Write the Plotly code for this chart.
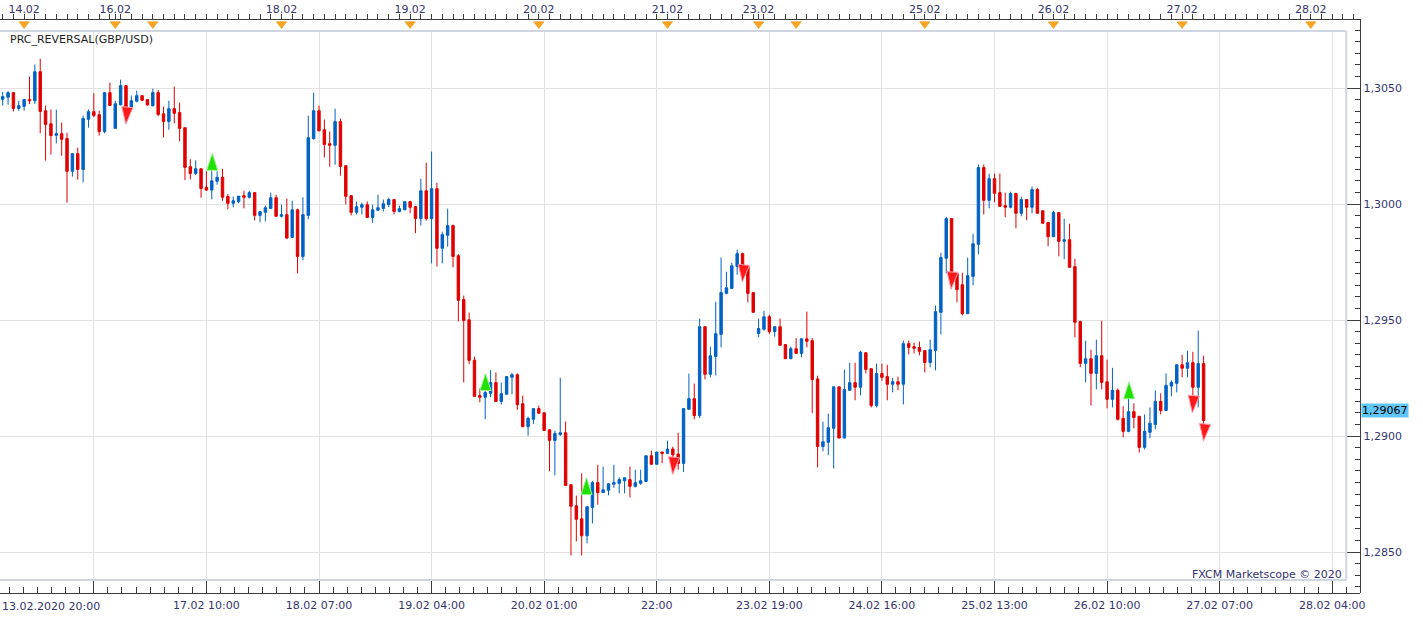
import plotly.graph_objects as go

# ---------------- data (hourly GBP/USD bars, weekend hours skipped) ----------------
# bar 0 = 13.02.2020 20:00
opens = [1.30451, 1.30460, 1.30480, 1.30412, 1.30421, 1.30450, 1.30445, 1.30570, 1.30402, 1.30346,
         1.30296, 1.30303, 1.30282, 1.30141, 1.30217, 1.30149, 1.30365, 1.30398, 1.30385, 1.30312,
         1.30480, 1.30326, 1.30428, 1.30510, 1.30417, 1.30443, 1.30467, 1.30450, 1.30424, 1.30480,
         1.30389, 1.30356, 1.30411, 1.30394, 1.30329, 1.30161, 1.30132, 1.30152, 1.30072, 1.30060,
         1.30098, 1.30115, 1.30032, 1.30003, 1.30011, 1.30036, 1.30029, 1.30049, 1.29951, 1.29964,
         1.29981, 1.30027, 1.29947, 1.29954, 1.29856, 1.29975, 1.29774, 1.29951, 1.30282, 1.30402,
         1.30320, 1.30260, 1.30253, 1.30355, 1.30165, 1.30036, 1.29964, 1.29986, 1.29997, 1.29942,
         1.29973, 1.29981, 1.29998, 1.30019, 1.29968, 1.29975, 1.30010, 1.29989, 1.29937, 1.30057,
         1.29937, 1.30066, 1.29809, 1.29865, 1.29907, 1.29777, 1.29588, 1.29501, 1.29327, 1.29174,
         1.29167, 1.29184, 1.29230, 1.29149, 1.29180, 1.29253, 1.29264, 1.29139, 1.29040, 1.29072,
         1.29118, 1.29100, 1.29027, 1.28981, 1.29007, 1.29014, 1.28790, 1.28699, 1.28643, 1.28570,
         1.28692, 1.28799, 1.28756, 1.28766, 1.28792, 1.28796, 1.28807, 1.28812, 1.28783, 1.28796,
         1.28804, 1.28915, 1.28878, 1.28931, 1.28925, 1.28944, 1.28922, 1.28882, 1.29115, 1.29161,
         1.29088, 1.29471, 1.29266, 1.29343, 1.29438, 1.29615, 1.29636, 1.29731, 1.29786, 1.29730,
         1.29618, 1.29442, 1.29460, 1.29514, 1.29450, 1.29471, 1.29394, 1.29333, 1.29376, 1.29356,
         1.29419, 1.29411, 1.29246, 1.28955, 1.28973, 1.29033, 1.29212, 1.28991, 1.29197, 1.29230,
         1.29210, 1.29359, 1.29290, 1.29131, 1.29269, 1.29256, 1.29223, 1.29234, 1.29223, 1.29398,
         1.29385, 1.29381, 1.29368, 1.29317, 1.29369, 1.29533, 1.29766, 1.29937, 1.29700, 1.29652,
         1.29527, 1.29688, 1.29826, 1.30157, 1.30016, 1.30109, 1.30049, 1.29993, 1.29986, 1.30045,
         1.29960, 1.30019, 1.29986, 1.30062, 1.29971, 1.29920, 1.29859, 1.29963, 1.29839, 1.29846,
         1.29730, 1.29493, 1.29313, 1.29333, 1.29270, 1.29346, 1.29234, 1.29158, 1.29197, 1.29076,
         1.29020, 1.29105, 1.29085, 1.28951, 1.29016, 1.29050, 1.29149, 1.29110, 1.29215, 1.29227,
         1.29307, 1.29292, 1.29316, 1.29210, 1.29312]
highs = [1.30483, 1.30486, 1.30480, 1.30445, 1.30450, 1.30549, 1.30601, 1.30626, 1.30424, 1.30407,
         1.30407, 1.30351, 1.30307, 1.30217, 1.30243, 1.30381, 1.30407, 1.30477, 1.30402, 1.30480,
         1.30523, 1.30445, 1.30536, 1.30510, 1.30467, 1.30489, 1.30467, 1.30450, 1.30497, 1.30491,
         1.30420, 1.30445, 1.30506, 1.30437, 1.30329, 1.30193, 1.30188, 1.30152, 1.30141, 1.30144,
         1.30141, 1.30152, 1.30043, 1.30032, 1.30034, 1.30057, 1.30057, 1.30049, 1.29967, 1.29993,
         1.30049, 1.30040, 1.29997, 1.30023, 1.30014, 1.29980, 1.30029, 1.30381, 1.30480, 1.30424,
         1.30364, 1.30312, 1.30411, 1.30368, 1.30165, 1.30036, 1.30010, 1.30006, 1.30011, 1.29997,
         1.30040, 1.30019, 1.30027, 1.30019, 1.29993, 1.30010, 1.30014, 1.29989, 1.30109, 1.30178,
         1.30226, 1.30092, 1.29881, 1.29980, 1.29911, 1.29784, 1.29605, 1.29532, 1.29342, 1.29205,
         1.29195, 1.29284, 1.29274, 1.29230, 1.29256, 1.29271, 1.29270, 1.29174, 1.29083, 1.29118,
         1.29131, 1.29100, 1.29027, 1.29023, 1.29251, 1.29062, 1.28790, 1.28743, 1.28839, 1.28695,
         1.28807, 1.28876, 1.28868, 1.28794, 1.28876, 1.28822, 1.28820, 1.28868, 1.28855, 1.28855,
         1.28915, 1.28937, 1.28931, 1.28931, 1.28980, 1.28954, 1.29014, 1.29118, 1.29269, 1.29226,
         1.29506, 1.29471, 1.29385, 1.29579, 1.29769, 1.29708, 1.29747, 1.29803, 1.29790, 1.29738,
         1.29618, 1.29506, 1.29540, 1.29523, 1.29471, 1.29506, 1.29394, 1.29385, 1.29422, 1.29419,
         1.29536, 1.29422, 1.29260, 1.29062, 1.29096, 1.29212, 1.29212, 1.29286, 1.29316, 1.29316,
         1.29368, 1.29359, 1.29290, 1.29312, 1.29312, 1.29307, 1.29251, 1.29256, 1.29411, 1.29411,
         1.29402, 1.29407, 1.29368, 1.29415, 1.29562, 1.29790, 1.29945, 1.29937, 1.29708, 1.29704,
         1.29769, 1.29872, 1.30170, 1.30170, 1.30131, 1.30131, 1.30131, 1.30049, 1.30053, 1.30049,
         1.30032, 1.30019, 1.30075, 1.30070, 1.29971, 1.29920, 1.29971, 1.29963, 1.29937, 1.29915,
         1.29764, 1.29497, 1.29411, 1.29372, 1.29415, 1.29497, 1.29329, 1.29294, 1.29205, 1.29128,
         1.29162, 1.29141, 1.29085, 1.29093, 1.29123, 1.29197, 1.29184, 1.29270, 1.29240, 1.29307,
         1.29350, 1.29368, 1.29363, 1.29454, 1.29346]
lows = [1.30424, 1.30428, 1.30399, 1.30402, 1.30402, 1.30431, 1.30431, 1.30305, 1.30187, 1.30213,
        1.30261, 1.30208, 1.30006, 1.30118, 1.30105, 1.30093, 1.30329, 1.30374, 1.30295, 1.30305,
        1.30425, 1.30326, 1.30424, 1.30402, 1.30417, 1.30438, 1.30443, 1.30424, 1.30420, 1.30378,
        1.30287, 1.30320, 1.30348, 1.30270, 1.30103, 1.30106, 1.30124, 1.30027, 1.30057, 1.30020,
        1.30083, 1.30014, 1.29977, 1.29986, 1.30003, 1.29981, 1.30024, 1.29929, 1.29921, 1.29925,
        1.29981, 1.29947, 1.29942, 1.29850, 1.29856, 1.29701, 1.29758, 1.29934, 1.30277, 1.30312,
        1.30200, 1.30161, 1.30169, 1.30122, 1.29998, 1.29951, 1.29955, 1.29955, 1.29942, 1.29919,
        1.29973, 1.29968, 1.29986, 1.29955, 1.29964, 1.29975, 1.29960, 1.29874, 1.29907, 1.29928,
        1.29744, 1.29731, 1.29744, 1.29816, 1.29727, 1.29494, 1.29231, 1.29310, 1.29171, 1.29145,
        1.29072, 1.29167, 1.29149, 1.29135, 1.29180, 1.29180, 1.29113, 1.29040, 1.29001, 1.29052,
        1.29098, 1.29024, 1.28848, 1.28830, 1.29000, 1.28787, 1.28485, 1.28546, 1.28485, 1.28537,
        1.28623, 1.28704, 1.28756, 1.28744, 1.28777, 1.28753, 1.28753, 1.28735, 1.28778, 1.28790,
        1.28804, 1.28878, 1.28878, 1.28882, 1.28925, 1.28836, 1.28855, 1.28845, 1.29115, 1.29072,
        1.29078, 1.29244, 1.29253, 1.29261, 1.29382, 1.29611, 1.29636, 1.29695, 1.29684, 1.29576,
        1.29533, 1.29425, 1.29454, 1.29440, 1.29428, 1.29391, 1.29333, 1.29333, 1.29356, 1.29339,
        1.29382, 1.29098, 1.28865, 1.28934, 1.28917, 1.28860, 1.28991, 1.28991, 1.29197, 1.29154,
        1.29175, 1.29270, 1.29123, 1.29123, 1.29238, 1.29154, 1.29188, 1.29197, 1.29136, 1.29352,
        1.29356, 1.29348, 1.29274, 1.29296, 1.29283, 1.29438, 1.29701, 1.29692, 1.29576, 1.29520,
        1.29527, 1.29649, 1.29783, 1.29955, 1.29981, 1.30007, 1.29990, 1.29943, 1.29981, 1.29895,
        1.29947, 1.29930, 1.29960, 1.29960, 1.29917, 1.29818, 1.29859, 1.29774, 1.29762, 1.29727,
        1.29425, 1.29296, 1.29231, 1.29131, 1.29201, 1.29201, 1.29119, 1.29123, 1.29067, 1.28994,
        1.29016, 1.29033, 1.28929, 1.28942, 1.28990, 1.29029, 1.29093, 1.29110, 1.29171, 1.29188,
        1.29253, 1.29253, 1.29158, 1.29123, 1.29037]
closes = [1.30463, 1.30480, 1.30412, 1.30424, 1.30450, 1.30445, 1.30570, 1.30399, 1.30343, 1.30295,
          1.30303, 1.30279, 1.30141, 1.30217, 1.30149, 1.30368, 1.30398, 1.30382, 1.30312, 1.30480,
          1.30425, 1.30432, 1.30510, 1.30417, 1.30445, 1.30467, 1.30447, 1.30427, 1.30480, 1.30386,
          1.30356, 1.30411, 1.30391, 1.30326, 1.30158, 1.30132, 1.30152, 1.30067, 1.30060, 1.30100,
          1.30115, 1.30029, 1.30003, 1.30014, 1.30034, 1.30029, 1.30049, 1.29951, 1.29967, 1.29984,
          1.30027, 1.29947, 1.29954, 1.29853, 1.29975, 1.29774, 1.29954, 1.30286, 1.30402, 1.30316,
          1.30257, 1.30253, 1.30355, 1.30162, 1.30033, 1.29964, 1.29988, 1.29997, 1.29942, 1.29975,
          1.29984, 1.30001, 1.30019, 1.29968, 1.29980, 1.30010, 1.29986, 1.29937, 1.30057, 1.29937,
          1.30066, 1.29809, 1.29868, 1.29907, 1.29774, 1.29585, 1.29498, 1.29326, 1.29171, 1.29167,
          1.29187, 1.29230, 1.29149, 1.29182, 1.29256, 1.29264, 1.29135, 1.29040, 1.29076, 1.29118,
          1.29098, 1.29024, 1.28981, 1.29011, 1.29014, 1.28787, 1.28697, 1.28641, 1.28570, 1.28695,
          1.28799, 1.28756, 1.28768, 1.28794, 1.28799, 1.28812, 1.28820, 1.28783, 1.28799, 1.28807,
          1.28915, 1.28878, 1.28931, 1.28925, 1.28944, 1.28919, 1.28882, 1.29118, 1.29161, 1.29088,
          1.29471, 1.29266, 1.29346, 1.29441, 1.29618, 1.29639, 1.29734, 1.29786, 1.29727, 1.29615,
          1.29533, 1.29463, 1.29514, 1.29450, 1.29471, 1.29391, 1.29333, 1.29376, 1.29356, 1.29419,
          1.29408, 1.29243, 1.28955, 1.28975, 1.29036, 1.29212, 1.28991, 1.29200, 1.29230, 1.29210,
          1.29361, 1.29287, 1.29131, 1.29269, 1.29253, 1.29223, 1.29234, 1.29223, 1.29398, 1.29382,
          1.29378, 1.29365, 1.29317, 1.29372, 1.29536, 1.29769, 1.29937, 1.29695, 1.29631, 1.29527,
          1.29691, 1.29829, 1.30157, 1.30016, 1.30109, 1.30046, 1.29990, 1.29986, 1.30045, 1.29960,
          1.30019, 1.29986, 1.30062, 1.29960, 1.29917, 1.29859, 1.29963, 1.29839, 1.29846, 1.29727,
          1.29490, 1.29313, 1.29333, 1.29270, 1.29346, 1.29231, 1.29158, 1.29197, 1.29072, 1.29020,
          1.29105, 1.29080, 1.28951, 1.29020, 1.29055, 1.29149, 1.29110, 1.29218, 1.29231, 1.29307,
          1.29292, 1.29316, 1.29210, 1.29312, 1.29067]
bar_index = list(range(len(closes)))

# PRC_REVERSAL signals (bar position, price)
sell_idx = [22.97, 124.96, 137.97, 176.9, 221.9, 224.0]
sell_price = [1.30344, 1.28835, 1.29664, 1.29633, 1.29100, 1.28978]
buy_idx = [39.09, 90.06, 108.9, 210.1]
buy_price = [1.30219, 1.29270, 1.28821, 1.29234]

# top axis: day starts
day_idx = [4, 21, 28, 52, 76, 100, 124, 141, 148, 172, 196, 220, 244]
day_labels = ["14.02", "16.02", "", "18.02", "19.02", "20.02", "21.02", "23.02", "",
              "25.02", "26.02", "27.02", "28.02"]
# bottom axis: time ticks every 21 bars
time_idx = [17, 38, 59, 80, 101, 122, 143, 164, 185, 206, 227, 248]
time_labels = ["", "17.02 10:00", "18.02 07:00", "19.02 04:00", "20.02 01:00", "22:00",
               "23.02 19:00", "24.02 16:00", "25.02 13:00", "26.02 10:00", "27.02 07:00",
               "28.02 04:00"]
start_label = "13.02.2020 20:00"

price_ticks = [1.2850, 1.2900, 1.2950, 1.3000, 1.3050]
price_labels = ["1,2850", "1,2900", "1,2950", "1,3000", "1,3050"]
last_price = 1.29067
last_label = "1,29067"

# ---------------- geometry ----------------
W, H = 1423, 619
X0, DX = 2.7, 5.38            # pixel centre of bar 0, pixels per bar
P_REF, Y_REF, PPU = 1.3050, 88.0, 23200.0   # price at pixel row, pixels per price unit


def idx_at(px):
    return (px - X0) / DX


def price_at(py):
    return P_REF - (py - Y_REF) / PPU


def fx(px):
    return px / W


def fy(py):
    return 1 - py / H


PLOT_L, PLOT_R, PLOT_T, PLOT_B = 0, 1351, 31, 580
AX_R, AX_T, AX_B = 1365, 19, 593

TXT = "#34346e"
AXC = "#3c3c3c"
GRID = "#e2e2e2"
FRAME = "#cfd6e1"
BLUE = "#0062c4"
RED = "#e00000"
FONT = "DejaVu Sans"

fig = go.Figure()

fig.add_trace(go.Candlestick(
    x=bar_index, open=opens, high=highs, low=lows, close=closes,
    increasing=dict(line=dict(color=BLUE, width=1), fillcolor=BLUE),
    decreasing=dict(line=dict(color=RED, width=1), fillcolor=RED),
    whiskerwidth=0, hoverinfo="skip", showlegend=False,
    xaxis="x", yaxis="y"))

fig.add_trace(go.Scatter(
    x=sell_idx, y=sell_price, mode="markers", showlegend=False, hoverinfo="skip",
    marker=dict(symbol="arrow", angle=185, size=18, color="#ff1a1a",
                line=dict(color="#ff9aa8", width=1)),
    xaxis="x", yaxis="y"))
fig.add_trace(go.Scatter(
    x=buy_idx, y=buy_price, mode="markers", showlegend=False, hoverinfo="skip",
    marker=dict(symbol="arrow", angle=0, size=18, color="#22e000",
                line=dict(color="#9cf59c", width=1)),
    xaxis="x", yaxis="y"))

# day markers on top axis
fig.add_trace(go.Scatter(
    x=day_idx, y=[0.5] * len(day_idx), mode="markers", showlegend=False, hoverinfo="skip",
    marker=dict(symbol="triangle-down", size=9, color="#ffa51f",
                line=dict(color="#e08a00", width=0.5)),
    cliponaxis=False, xaxis="x3", yaxis="y3"))
# anchor trace for the bottom time axis / price axis
fig.add_trace(go.Scatter(x=[None], y=[None], xaxis="x2", yaxis="y2",
                         showlegend=False, hoverinfo="skip"))

x_main = [idx_at(PLOT_L), idx_at(PLOT_R)]
x_full = [idx_at(PLOT_L), idx_at(AX_R)]

fig.update_layout(
    width=W, height=H,
    margin=dict(l=0, r=0, t=0, b=0),
    paper_bgcolor="white", plot_bgcolor="rgba(0,0,0,0)",
    font=dict(family=FONT, size=11, color=TXT),
    boxgap=0.35,
    showlegend=False,
    xaxis=dict(domain=[fx(PLOT_L), fx(PLOT_R)], range=x_main, anchor="y",
               tickmode="array", tickvals=time_idx, showticklabels=False, ticks="",
               showgrid=True, gridcolor=GRID, gridwidth=1, zeroline=False,
               showline=False, rangeslider=dict(visible=False), fixedrange=True),
    yaxis=dict(domain=[fy(PLOT_B), fy(PLOT_T)], range=[price_at(PLOT_B), price_at(PLOT_T)],
               anchor="x", tickmode="array", tickvals=price_ticks, showticklabels=False,
               ticks="", showgrid=True, gridcolor=GRID, gridwidth=1, zeroline=False,
               showline=False),
    xaxis2=dict(domain=[fx(PLOT_L), fx(AX_R)], range=x_full, anchor="free",
                position=fy(AX_B), side="bottom",
                tickmode="array", tickvals=time_idx, ticktext=time_labels,
                ticks="inside", ticklen=12, tickwidth=1, tickcolor=AXC,
                ticklabelstandoff=2,
                showline=True, linecolor=AXC, linewidth=1, showgrid=False, zeroline=False,
                tickfont=dict(family=FONT, size=11, color=TXT),
                minor=dict(tick0=17, dtick=21 / 8, ticks="inside", ticklen=6,
                           tickcolor=AXC, tickwidth=1, showgrid=False)),
    xaxis3=dict(domain=[fx(PLOT_L), fx(AX_R)], range=x_full, anchor="free",
                position=fy(AX_T), side="top",
                tickmode="array", tickvals=day_idx, ticktext=day_labels,
                ticks="outside", ticklen=5, tickwidth=1, tickcolor=AXC,
                ticklabelstandoff=-3,
                showline=True, linecolor=AXC, linewidth=1, showgrid=False, zeroline=False,
                tickfont=dict(family=FONT, size=11, color=TXT),
                minor=dict(tick0=0, dtick=2, ticks="outside", ticklen=5,
                           tickcolor=AXC, tickwidth=1, showgrid=False)),
    yaxis2=dict(domain=[fy(AX_B), fy(AX_T)], range=[price_at(AX_B), price_at(AX_T)],
                anchor="free", position=fx(AX_R), side="right",
                tickmode="array", tickvals=price_ticks, ticktext=price_labels,
                ticks="inside", ticklen=13, tickwidth=1, tickcolor=AXC,
                showline=True, linecolor=AXC, linewidth=1, showgrid=False, zeroline=False,
                tickfont=dict(family=FONT, size=11, color=TXT),
                minor=dict(tick0=1.2850, dtick=0.0005, ticks="inside", ticklen=5,
                           tickcolor=AXC, tickwidth=1, showgrid=False)),
    yaxis3=dict(domain=[fy(29), fy(AX_T)], range=[0, 1], anchor="free", position=0,
                visible=False, fixedrange=True),
)

# plot frame (top, right, bottom)
for x0, y0, x1, y1 in [(PLOT_L, PLOT_T, PLOT_R, PLOT_T), (PLOT_R, PLOT_T, PLOT_R, PLOT_B),
                       (PLOT_L, PLOT_B, PLOT_R, PLOT_B)]:
    fig.add_shape(type="line", xref="paper", yref="paper",
                  x0=fx(x0), y0=fy(y0), x1=fx(x1), y1=fy(y1),
                  line=dict(color=FRAME, width=2), layer="above")

fig.add_annotation(text="PRC_REVERSAL(GBP/USD)", xref="paper", yref="paper",
                   x=fx(8), y=fy(39), xanchor="left", yanchor="middle", showarrow=False,
                   font=dict(family=FONT, size=11, color="#1e1e1e"))
fig.add_annotation(text="FXCM Marketscope © 2020", xref="paper", yref="paper",
                   x=fx(1349), y=fy(574), xanchor="right", yanchor="middle", showarrow=False,
                   font=dict(family=FONT, size=11, color=TXT))
fig.add_annotation(text=start_label, xref="paper", yref="paper",
                   x=fx(0), y=fy(606), xanchor="left", yanchor="middle", showarrow=False,
                   font=dict(family=FONT, size=11, color=TXT))
fig.add_annotation(text=last_label, xref="paper", yref="y",
                   x=fx(1366), y=last_price, xanchor="left", yanchor="bottom", yshift=2,
                   showarrow=False, bgcolor="#60c6f7", borderpad=0,
                   font=dict(family=FONT, size=11, color="#000000"))

fig.write_html("out.html")
